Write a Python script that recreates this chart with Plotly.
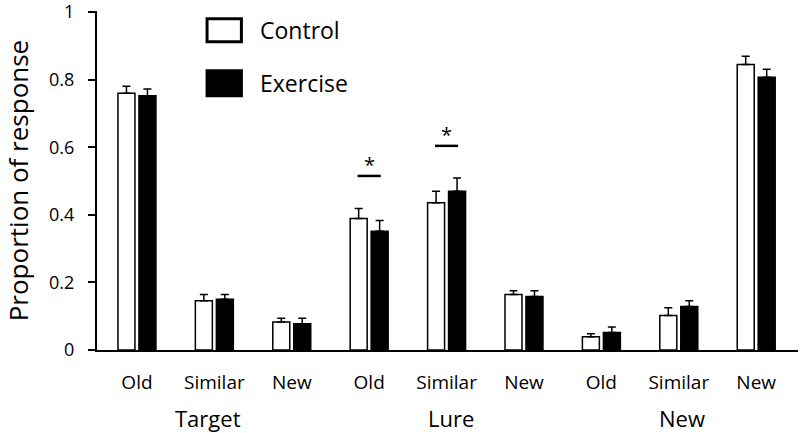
import plotly.graph_objects as go

categories = ["Old", "Similar", "New", "Old", "Similar", "New", "Old", "Similar", "New"]
groups = ["Target", "Lure", "New"]
control = [0.760, 0.146, 0.083, 0.389, 0.436, 0.164, 0.039, 0.102, 0.845]
control_err = [0.020, 0.018, 0.011, 0.030, 0.034, 0.011, 0.009, 0.023, 0.024]
exercise = [0.752, 0.150, 0.078, 0.351, 0.470, 0.158, 0.052, 0.129, 0.807]
exercise_err = [0.020, 0.014, 0.016, 0.032, 0.039, 0.017, 0.016, 0.017, 0.024]
sig_x = [3, 4]
sig_line_y = [0.515, 0.604]
sig_star_y = [0.548, 0.638]

FONT = "Open Sans"
x = list(range(len(categories)))

fig = go.Figure()
fig.add_trace(go.Bar(
    x=x, y=control, name="Control",
    marker=dict(color="white", line=dict(color="black", width=1.5)),
    error_y=dict(type="data", symmetric=False, array=control_err,
                 arrayminus=[0] * len(control), color="black", thickness=1.5, width=4),
))
fig.add_trace(go.Bar(
    x=x, y=exercise, name="Exercise",
    marker=dict(color="black", line=dict(color="black", width=1.5)),
    error_y=dict(type="data", symmetric=False, array=exercise_err,
                 arrayminus=[0] * len(exercise), color="black", thickness=1.5, width=4),
))

# significance markers
for sx, ly, sy in zip(sig_x, sig_line_y, sig_star_y):
    fig.add_shape(type="line", xref="x", yref="y", x0=sx - 0.15, x1=sx + 0.15,
                  y0=ly, y1=ly, line=dict(color="black", width=2.5))
    fig.add_annotation(x=sx, y=sy, xref="x", yref="y", text="*", showarrow=False,
                       font=dict(family=FONT, size=20, color="black"), yanchor="middle")

# group labels
group_x = [0.92, 4.06, 7.04]
for gx, g in zip(group_x, groups):
    fig.add_annotation(x=gx, y=-0.2, xref="x", yref="paper",
                       text=g, showarrow=False, yanchor="middle",
                       font=dict(family=FONT, size=22, color="black"))

# y-axis title
fig.add_annotation(x=-0.113, y=0.5, xref="paper", yref="paper",
                   text="Proportion of response", textangle=-90, showarrow=False,
                   xanchor="center", yanchor="middle",
                   font=dict(family=FONT, size=26, color="black"))

# custom legend
legend_items = [("Control", "white", 0.977, 0.909), ("Exercise", "black", 0.824, 0.750)]
for name, col, y1, y0 in legend_items:
    fig.add_shape(type="rect", xref="paper", yref="paper", x0=0.157, x1=0.206,
                  y0=y0, y1=y1, fillcolor=col, line=dict(color="black", width=3))
    fig.add_annotation(x=0.229, y=(y0 + y1) / 2, xref="paper", yref="paper", text=name,
                       showarrow=False, xanchor="left", yanchor="middle",
                       font=dict(family=FONT, size=23, color="black"))

fig.update_layout(
    width=800, height=433,
    margin=dict(l=97, r=2, t=11, b=83, autoexpand=False),
    paper_bgcolor="white", plot_bgcolor="white",
    barmode="group", bargap=0.458, bargroupgap=0.19,
    showlegend=False,
    font=dict(family=FONT, color="black"),
)
fig.update_xaxes(
    range=[-0.516, 8.54], tickvals=x, ticktext=categories, automargin=False,
    showline=True, linecolor="black", linewidth=2, ticks="",
    showgrid=False, zeroline=False, ticklabelstandoff=14,
    tickfont=dict(family=FONT, size=19, color="black"),
)
fig.update_yaxes(
    range=[0, 1.003], tickmode="linear", tick0=0, dtick=0.2, automargin=False,
    showline=True, linecolor="black", linewidth=2, ticks="outside", ticklen=7,
    tickwidth=1.5, tickcolor="black", showgrid=False, zeroline=False,
    ticklabelstandoff=10, ticklabeloverflow="allow",
    tickfont=dict(family=FONT, size=18, color="black"),
)

# remove the browser's default 8px page margin so the figure fills the window
fig.write_html("out.html", config={"displayModeBar": False},
               post_script="document.body.style.margin='0';")
